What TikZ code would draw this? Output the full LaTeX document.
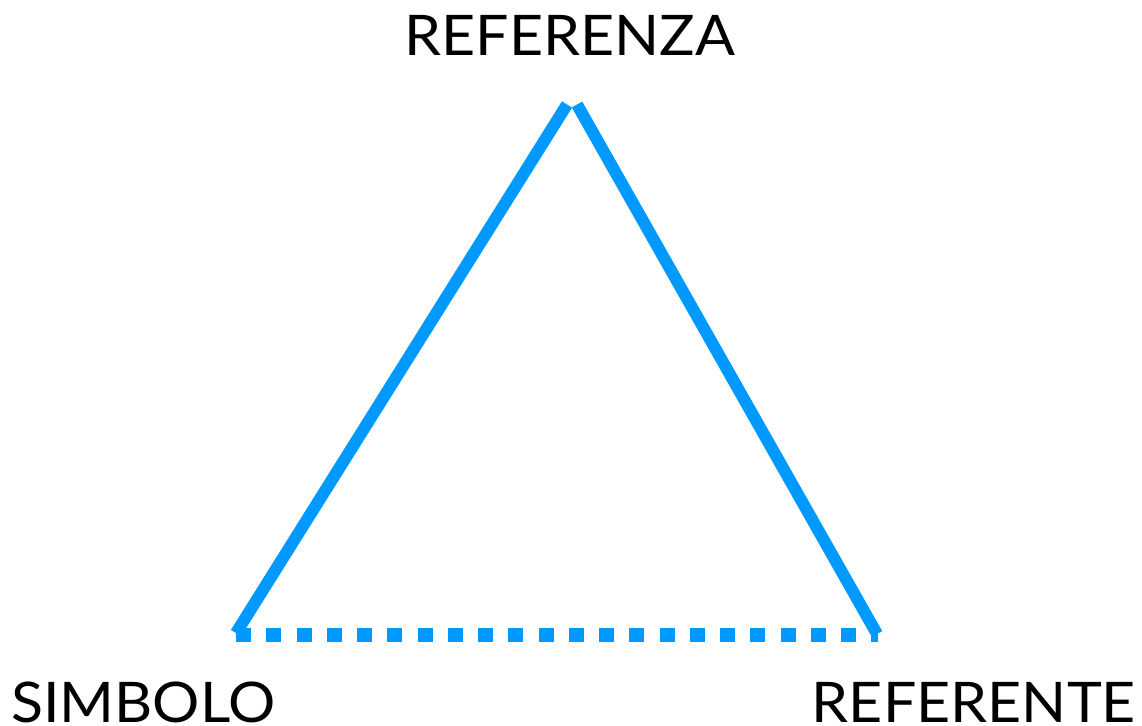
\documentclass[tikz,border=0pt]{standalone}
\usepackage{fontspec}
\usepackage{graphicx}
\setmainfont{Lato}
\definecolor{triblue}{HTML}{0099FF}
\newcommand{\widen}[1]{\scalebox{1.055}[1]{#1}}
\begin{document}
\begin{tikzpicture}[x=1pt,y=-1pt,
  side/.style={draw=triblue,line width=12pt,line cap=butt},
  base/.style={draw=triblue,line width=14.5pt,line cap=butt,dash pattern=on 15pt off 15.25pt},
  lbl/.style={inner sep=0pt,font=\fontsize{56}{60}\selectfont}]
\useasboundingbox (0,0) rectangle (1142,725);
\coordinate (sTop) at (567,104.5);
\coordinate (sBot) at (236,633);
\coordinate (rTop) at (577,104.5);
\coordinate (rBot) at (877,634);
\coordinate (bL) at (236,635);
\coordinate (bR) at (878,635);
\draw[base] (bL) -- (bR);
\draw[side] (sBot) -- (sTop);
\draw[side] (rTop) -- (rBot);
\node[lbl,anchor=base] (referenza) at (570,56) {\widen{REFERENZA}};
\node[lbl,anchor=base west] (simbolo) at (11,722) {\widen{SIMBOLO}};
\node[lbl,anchor=base east] (referente) at (1136,722) {\widen{REFERENTE}};
\end{tikzpicture}
\end{document}
